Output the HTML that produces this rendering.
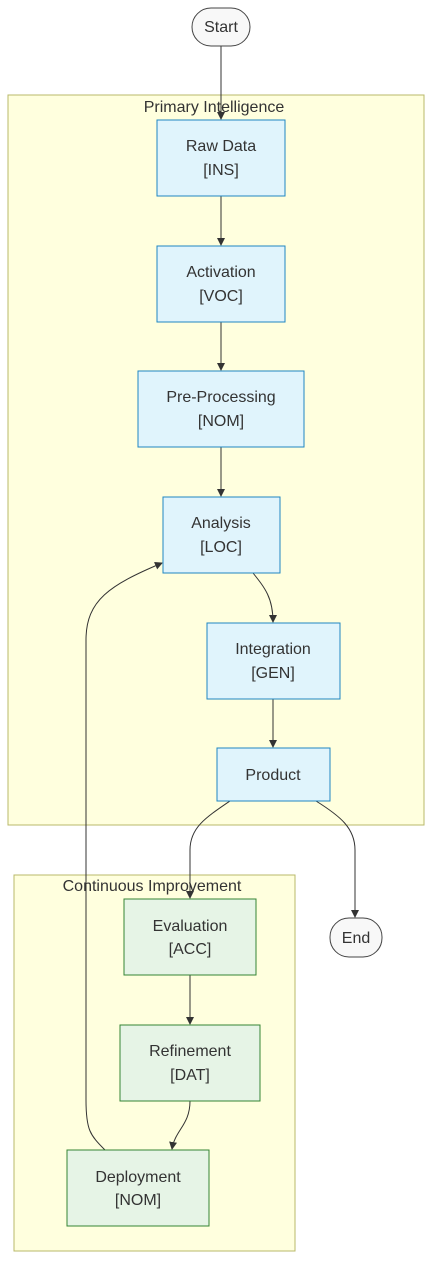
<!DOCTYPE html>
<html><head><style>body{margin:0;background:#fff}svg{display:block}text{font-family:"Liberation Sans",sans-serif;fill:#333;font-size:16px;text-anchor:middle}</style></head><body>
<svg width="440" height="1283" viewBox="0 0 440 1283">
<defs><marker id="a" markerWidth="8" markerHeight="8" refX="7" refY="4" orient="auto" markerUnits="userSpaceOnUse"><path d="M0,0L8,4L0,8z" fill="#333"/></marker></defs>
<rect x="8" y="95" width="416" height="730" fill="#ffffde" stroke="#b8b86a"/>
<text x="214" y="112">Primary Intelligence</text>
<rect x="14" y="875" width="281" height="376" fill="#ffffde" stroke="#b8b86a"/>
<text x="152" y="891">Continuous Improvement</text>
<g fill="none" stroke="#333" stroke-width="1">
<path d="M221,46V119" marker-end="url(#a)"/>
<path d="M221,196V245" marker-end="url(#a)"/>
<path d="M221,322V370" marker-end="url(#a)"/>
<path d="M221,447V496" marker-end="url(#a)"/>
<path d="M253,573C265,588 273,598 273,622" marker-end="url(#a)"/>
<path d="M273,699V747" marker-end="url(#a)"/>
<path d="M230,801C205,818 190,828 190,850V898" marker-end="url(#a)"/>
<path d="M316,801C340,816 355,828 355,850V917" marker-end="url(#a)"/>
<path d="M190,975V1024" marker-end="url(#a)"/>
<path d="M190,1101C190,1125 175,1130 172,1149" marker-end="url(#a)"/>
<path d="M105,1150C90,1135 86,1130 86,1100V640C86,600 110,585 162,563" marker-end="url(#a)"/>
</g>
<rect x="192" y="8" width="58" height="38" rx="19" fill="#f8f8f8" stroke="#444"/>
<text x="221" y="32">Start</text>
<rect x="330" y="918" width="52" height="39" rx="19" fill="#f8f8f8" stroke="#444"/>
<text x="356" y="943">End</text>
<g fill="#e0f4fc" stroke="#1f86c2">
<rect x="157" y="120" width="128" height="76"/>
<rect x="157" y="246" width="128" height="76"/>
<rect x="138" y="371" width="166" height="76"/>
<rect x="163" y="497" width="117" height="76"/>
<rect x="207" y="623" width="133" height="76"/>
<rect x="217" y="748" width="113" height="53"/>
</g>
<g fill="#e6f4e6" stroke="#348434">
<rect x="124" y="899" width="132" height="76"/>
<rect x="120" y="1025" width="140" height="76"/>
<rect x="67" y="1150" width="142" height="76"/>
</g>
<text x="221" y="151">Raw Data</text><text x="221" y="175">[INS]</text>
<text x="221" y="277">Activation</text><text x="221" y="301">[VOC]</text>
<text x="221" y="402">Pre-Processing</text><text x="221" y="426">[NOM]</text>
<text x="221" y="528">Analysis</text><text x="221" y="552">[LOC]</text>
<text x="273" y="654">Integration</text><text x="273" y="678">[GEN]</text>
<text x="273" y="780">Product</text>
<text x="190" y="931">Evaluation</text><text x="190" y="954">[ACC]</text>
<text x="190" y="1056">Refinement</text><text x="190" y="1080">[DAT]</text>
<text x="138" y="1182">Deployment</text><text x="138" y="1205">[NOM]</text>
</svg>
</body></html>
